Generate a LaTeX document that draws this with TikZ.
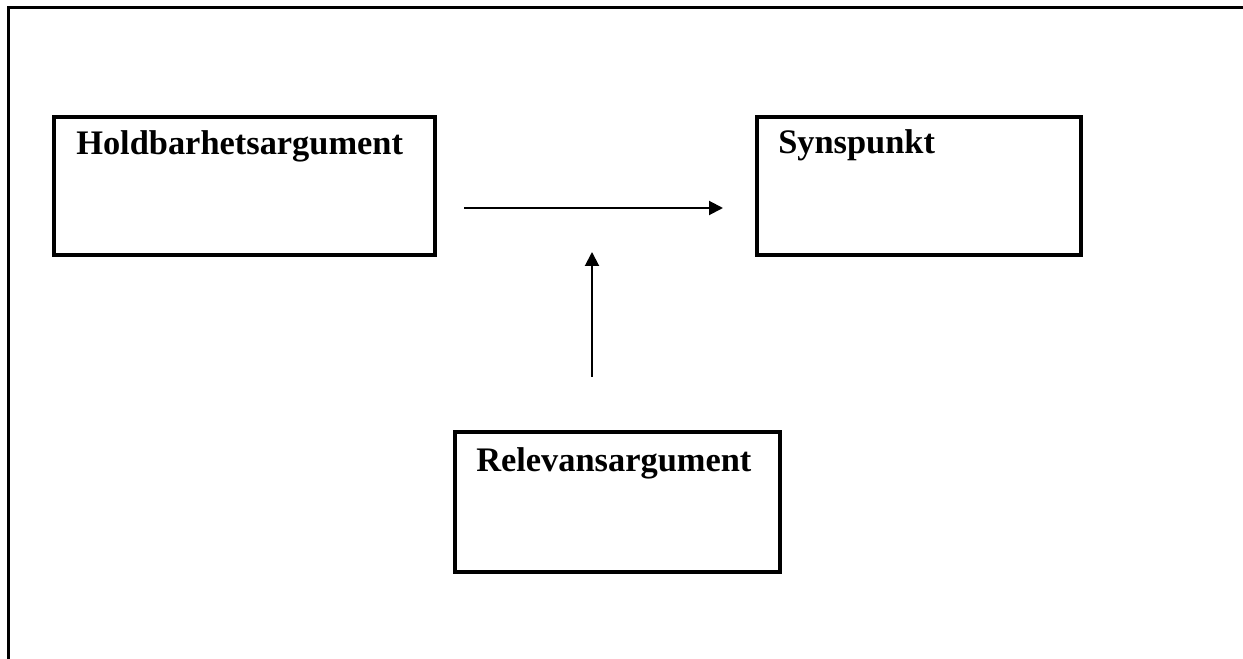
\documentclass[tikz,border=0pt]{standalone}
\usepackage{fontspec}
\setmainfont{Liberation Serif}
\usetikzlibrary{arrows.meta}
\begin{document}
\begin{tikzpicture}[x=0.75pt,y=-0.75pt,
  box/.style={draw=black, line width=3pt, rectangle, inner sep=0pt, outer sep=0pt},
  lbl/.style={anchor=base west, inner sep=0pt, font=\fontsize{25.8}{30}\selectfont\bfseries},
  arr/.style={line width=1.5pt, -{Triangle[length=10.5pt,width=10.5pt]}},
  frame/.style={line width=2.25pt}]
\useasboundingbox (0,0) rectangle (1243,659);
\draw[frame] (8,659) -- (8,8) -- (1243,8);
% boxes
\node[box, minimum width=285.75pt, minimum height=103.5pt] (hold) at (244.5,186) {};
\node[box, minimum width=243pt, minimum height=103.5pt] (syn) at (919,186) {};
\node[box, minimum width=243.75pt, minimum height=105pt] (rel) at (617.5,502) {};
% labels
\node[lbl] (holdt) at (76,155) {Holdbarhetsargument};
\node[lbl] (synt) at (778,154) {Synspunkt};
\node[lbl] (relt) at (476,471) {Relevansargument};
% arrows
\coordinate (hs) at (464,208);
\coordinate (he) at (723,208);
\coordinate (vs) at (592,377);
\coordinate (ve) at (592,252);
\draw[arr] (hs) -- (he);
\draw[arr] (vs) -- (ve);
\end{tikzpicture}
\end{document}
